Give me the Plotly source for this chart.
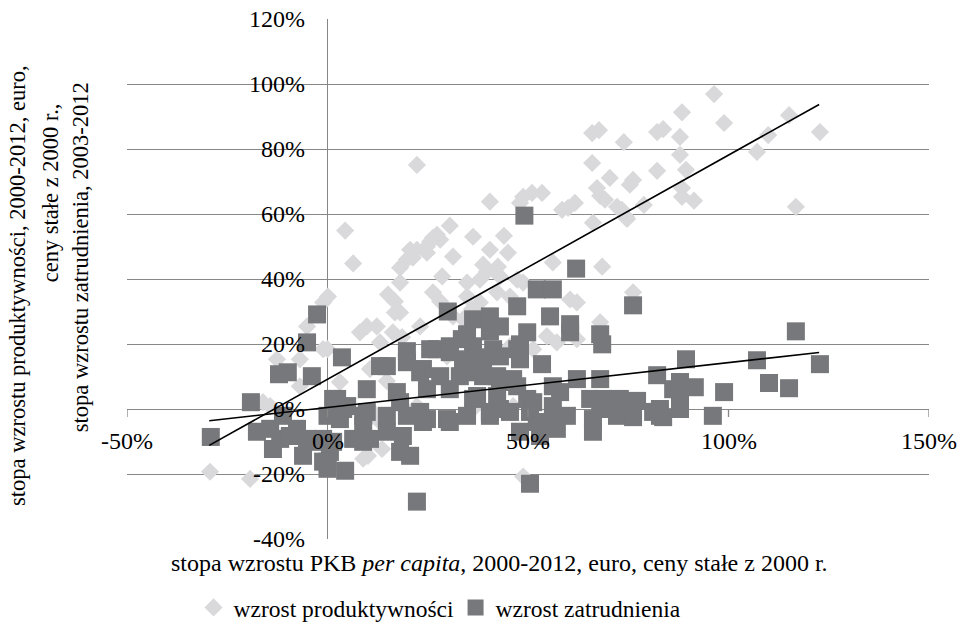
import plotly.graph_objects as go

# ---- data (percent) ----
prod_x = [96.4, 88.4, 98.9, 82.2, 83.7, 87.9, 73.9, 87.9, 82.2, 89.4, 76.2, 75.4, 88.4, 88.4, 91.4,
          78.9, 74.4, 73.4, 115.1, 109.9, 107.1, 122.8, 116.8, 76.2, 66.0, 67.7, 66.0, 70.4, 67.2, 68.0,
          69.2, 72.2, 74.7, 66.2, 61.7, 60.0, 58.5, 53.5, 51.0, 48.8, 48.0, 40.5, 30.5, 28.1, 36.3,
          44.0, 40.5, 45.0, 31.3, 22.3, 26.3, 24.8, 20.6, 19.8, 18.1, 38.8, 42.5, 43.0, 28.6, 56.2,
          68.5, 18.1, 26.3, 34.8, 34.8, 38.0, 42.3, 45.5, 47.3, 62.2, 23.1, 18.1, 54.7, 57.2, 62.2,
          68.0, 29.8, 45.5, 48.8, 4.4, 6.4, 27.3, 25.6, 22.3, 24.8, 0.1, -1.1, 15.1, 16.8, 16.8,
          9.8, 8.1, 16.3, 18.6, 28.1, 13.1, -5.1, -29.3, -19.3, -12.6, -6.9, 0.0, -14.3, -6.9, 3.1,
          8.9, 10.1, 13.6, -16.1, 21.3, 39.8, 38.0, 48.8, 12.3, 31.3, 33.8, 36.0, 51.3, 11.3, 13.1,
          60.5, -1.1, 10.6, 14.8, 22.3, 36.3, 46.3]
prod_y = [96.9, 91.3, 88.0, 85.2, 86.1, 83.7, 82.1, 78.2, 73.3, 73.6, 70.5, 69.0, 68.0, 65.3, 64.1,
          62.8, 59.2, 61.3, 90.4, 84.3, 79.1, 85.2, 62.2, 35.9, 84.9, 85.8, 75.7, 71.1, 68.0, 65.6,
          64.4, 62.2, 58.5, 57.3, 63.4, 61.9, 61.3, 66.5, 66.5, 65.3, 63.4, 63.8, 56.4, 52.1, 53.0,
          53.3, 49.0, 48.1, 46.9, 75.1, 52.7, 50.0, 49.0, 46.0, 43.5, 44.4, 43.8, 40.8, 40.8, 45.1,
          43.8, 38.9, 35.9, 38.9, 34.6, 32.8, 35.9, 34.6, 39.8, 32.8, 25.4, 29.7, 22.4, 20.5, 21.5,
          26.7, 16.2, 19.3, -20.8, 54.9, 44.8, 53.6, 51.5, 49.0, 48.1, 34.6, 32.8, 35.2, 33.1, 29.7,
          25.4, 23.6, 23.6, 22.1, 33.1, 20.5, 25.4, -19.3, -21.5, 15.3, 15.3, 18.4, 0.9, 7.0, 8.3,
          -15.3, -14.4, -12.3, 2.1, 46.6, 42.3, 39.8, 38.9, 25.4, 28.5, 27.6, 30.7, 18.4, -0.9, -4.0,
          33.7, 18.4, 12.3, 8.6, 0.9, 0.0, 0.9]

emp_x = [76.2, 116.8, 89.4, 107.1, 122.8, 82.2, 110.1, 115.1, 98.9, 91.6, 87.9, 87.9, 87.9, 96.1,
         75.4, 72.9, 82.9, 83.7, 60.5, 68.0, 68.5, 62.2, 68.0, 58.0, 65.5, 68.7, 77.2, 59.7, 66.2,
         72.2, 76.2, 82.9, 66.2, 57.2, 3.6, 14.8, 19.8, 25.6, 30.5, 36.3, 41.3, 48.0, 33.8, 38.8,
         48.0, 53.5, 23.1, 28.1, 33.0, 37.3, 42.3, 46.3, 9.8, 17.3, 24.8, 30.5, 36.3, 42.3, 49.8,
         56.2, 1.4, 4.9, 9.8, 14.8, 19.8, 24.8, 29.8, 34.8, 40.5, 45.5, 50.5, 56.2, 8.9, 14.8,
         18.8, 23.8, 30.5, 48.0, 53.0, 56.2, 6.4, 10.6, 18.1, 20.6, -1.1, 0.6, 4.4, 50.5, 22.3,
         0.0, 49.1, 62.0, 30.0, 52.2, 56.2, 47.3, 55.5, 60.5, 36.3, 40.5, 43.0, 40.5, 34.8, 33.5,
         27.3, 30.5, 37.3, 43.0, 47.3, 49.8, 19.8, 23.8, 38.8, 43.0, 47.3, 18.1, 23.1, 40.5, 51.3,
         52.2, 68.0, 74.7, 81.2, 86.2, 37.3, 43.0, -2.6, -5.1, -12.1, -9.9, -3.9, -19.1, -29.1,
         -17.6, -14.3, -11.8, -13.6, -9.4, -7.6, -5.1, -1.9, 1.4, 3.1, 3.9, 0.0, -6.1, -1.1, 0.0,
         8.9, 8.9, -11.1, 13.1, 2.4]
emp_y = [31.9, 23.9, 15.3, 15.0, 13.8, 10.4, 8.0, 6.4, 5.2, 6.7, 8.3, 4.6, 0.0, -2.1,
         2.1, 3.1, 0.0, -2.5, 23.6, 23.0, 19.9, 9.2, 9.2, 5.2, 3.1, 3.1, 2.5, -2.1, -3.1,
         -2.1, -2.5, -2.1, -7.0, -6.1, 15.9, 13.2, 17.8, 18.4, 19.3, 19.3, 18.4, 19.9, 15.3, 14.4,
         15.3, 13.8, 11.3, 10.1, 10.1, 11.3, 10.1, 9.2, 6.1, 5.2, 6.1, 6.1, 3.1, 4.0, 3.1,
         7.0, 3.1, 0.9, -0.9, -2.1, -2.1, -3.1, -3.1, -2.1, -2.1, -0.9, -0.9, 0.9, -5.2, -7.0,
         -8.3, -4.0, -4.0, -7.0, -8.3, -4.0, -9.2, -9.2, -13.2, -14.4, -9.2, -13.2, -19.0, -23.0, -28.5,
         -16.2, 59.5, 43.2, 30.0, 36.8, 36.8, 31.6, 28.5, 26.1, 27.6, 28.5, 25.4, 23.9, 23.0, 21.5,
         18.4, 17.5, 15.9, 16.2, 18.4, 23.6, 14.4, 12.3, 10.1, 8.3, 7.0, 2.1, -0.9, -0.9, 2.1,
         -4.0, 0.0, 0.9, -0.9, 6.1, 4.0, 0.0, 29.1, 20.5, 10.7, 11.3, 10.1, 2.1, -8.6,
         -7.0, -6.1, -9.2, -12.3, -8.3, -6.1, -9.2, -10.1, -10.1, -3.1, 0.0, -2.1, -14.4, -16.2, -18.4,
         -10.1, -2.1, -2.1, 13.2, 3.1]

# linear trend lines (value at the two ends of the data range)
trend_x = [-29.5, 122.6]
prod_trend = [-11.2, 93.7]
emp_trend = [-3.6, 17.4]

x_ticks = [-50, 0, 50, 100, 150]
y_ticks = [-40, -20, 0, 20, 40, 60, 80, 100, 120]

series_names = ["wzrost produktywności", "wzrost zatrudnienia"]
x_title = "stopa wzrostu PKB <i>per capita</i>, 2000-2012, euro, ceny stałe z 2000 r."
y_title_lines = ["stopa wzrostu produktywności, 2000-2012, euro,",
                 "ceny stałe z 2000 r.,",
                 "stopa wzrostu zatrudnienia, 2003-2012"]

FONT = "Liberation Serif, Times New Roman, serif"
FS = 24
FS_Y = 22.5
GRID = "#878787"
LIGHT = "#d9d9db"
DARK = "#77787b"

fig = go.Figure()
fig.add_trace(go.Scatter(x=prod_x, y=prod_y, mode="markers", name=series_names[0],
                         marker=dict(symbol="diamond", size=14, color=LIGHT, line=dict(width=0)),
                         cliponaxis=False))
fig.add_trace(go.Scatter(x=emp_x, y=emp_y, mode="markers", name=series_names[1],
                         marker=dict(symbol="square", size=18, color=DARK, line=dict(width=0)),
                         cliponaxis=False))
for ty in (prod_trend, emp_trend):
    fig.add_trace(go.Scatter(x=trend_x, y=ty, mode="lines", showlegend=False,
                             line=dict(color="black", width=1.6), hoverinfo="skip"))

annotations = []
for t in x_ticks:
    annotations.append(dict(x=t, y=0, xref="x", yref="y", text=f"{t}%", showarrow=False,
                            yshift=-32, font=dict(family=FONT, size=FS, color="black")))
for t in y_ticks:
    annotations.append(dict(x=0, y=t, xref="x", yref="y", text=f"{t}%", showarrow=False,
                            xanchor="right", xshift=-21, font=dict(family=FONT, size=FS, color="black")))
annotations.append(dict(x=0.464, y=0, xref="paper", yref="paper", yshift=-24, text=x_title,
                        showarrow=False, yanchor="middle", font=dict(family=FONT, size=FS, color="black")))
for line, xs, yc in zip(y_title_lines, [-109, -77, -47], [0.4866, 0.6648, 0.542]):
    annotations.append(dict(x=0, y=yc, xref="paper", yref="paper", xshift=xs,
                            text=line, textangle=-90, showarrow=False, xanchor="center",
                            yanchor="middle", font=dict(family=FONT, size=FS_Y, color="black")))

shapes = [dict(type="line", xref="x", yref="y", x0=t, x1=t, ysizemode="pixel", yanchor=0,
               y0=0, y1=-8, line=dict(color=GRID, width=1.3)) for t in x_ticks]

fig.update_layout(
    width=965, height=642,
    margin=dict(l=127, r=36, t=19, b=101),
    paper_bgcolor="white", plot_bgcolor="white",
    font=dict(family=FONT, size=FS, color="black"),
    xaxis=dict(range=[-50, 150], showgrid=False, showticklabels=False, ticks="",
               zeroline=True, zerolinecolor=GRID, zerolinewidth=1.3, showline=False),
    yaxis=dict(range=[-40, 120], tickvals=y_ticks, showgrid=True, gridcolor=GRID, gridwidth=1.3,
               showticklabels=False, ticks="", zeroline=True, zerolinecolor=GRID, zerolinewidth=1.3,
               showline=False),
    legend=dict(orientation="h", x=0.083, xanchor="left", y=-0.132, yanchor="middle",
                entrywidth=217, entrywidthmode="pixels",
                font=dict(family=FONT, size=FS - 0.5, color="black"), bgcolor="rgba(0,0,0,0)"),
    annotations=annotations, shapes=shapes,
)

fig.write_html("out.html", config={"displayModeBar": False},
               post_script="document.body.style.margin='0';document.body.style.padding='0';")
